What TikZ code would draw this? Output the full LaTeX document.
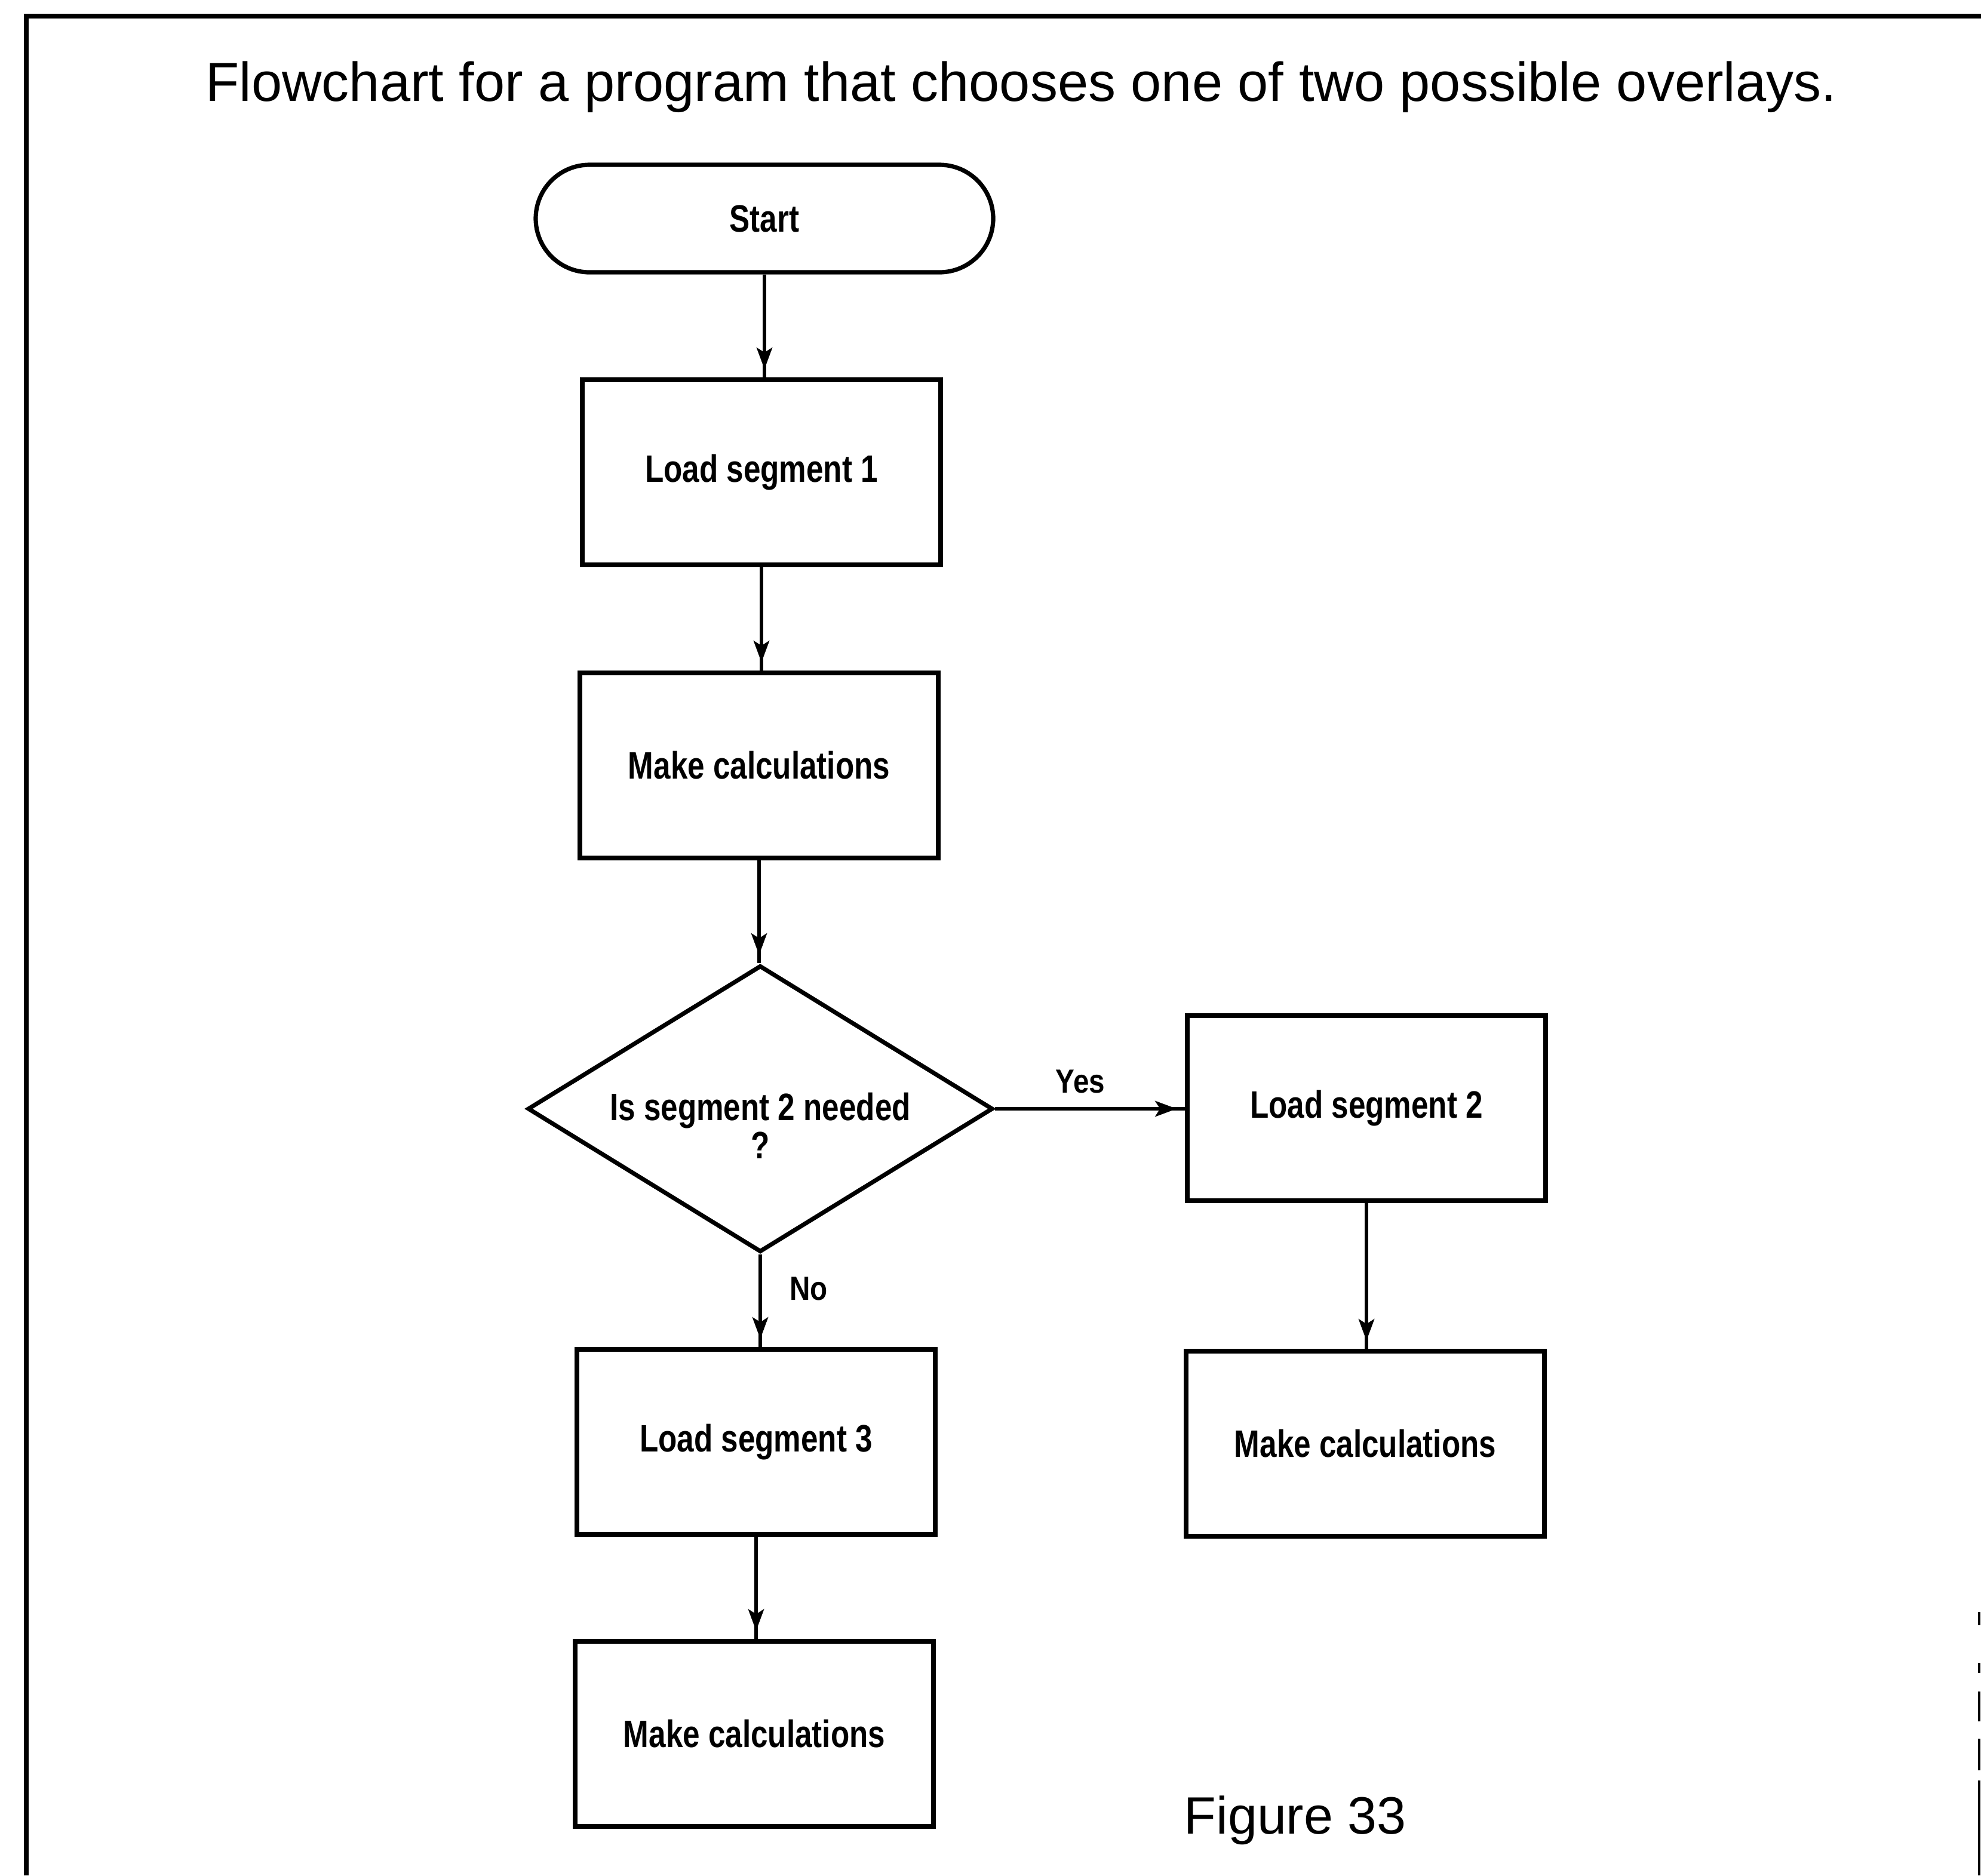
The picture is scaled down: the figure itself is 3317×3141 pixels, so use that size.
\documentclass[tikz,border=0pt]{standalone}
\usepackage{fontspec}
\setmainfont{Liberation Sans}
\newfontfamily\boxfont[FakeStretch=0.8]{Liberation Sans}
\newfontfamily\lblfont[FakeStretch=0.85]{Liberation Sans}
\usetikzlibrary{shapes.misc,shapes.geometric,arrows.meta,decorations.markings}
\tikzset{
  boxline/.style={draw=black, line width=1.8pt},
  procbox/.style={boxline, rectangle, minimum width=150pt, minimum height=77.5pt, inner sep=0pt,
    font=\boxfont\bfseries\fontsize{16}{18}\selectfont, align=center},
  termbox/.style={boxline, rounded rectangle, minimum width=191.5pt, minimum height=45pt, inner sep=0pt,
    font=\boxfont\bfseries\fontsize{16}{18}\selectfont},
  decbox/.style={boxline, diamond, aspect=1.62, minimum width=194.75pt, minimum height=120pt, inner sep=0pt},
  dectext/.style={font=\boxfont\bfseries\fontsize{16}{16}\selectfont, align=center, inner sep=0pt},
  flow/.style={draw=black, line width=1.6pt,
    postaction={decorate},
    decoration={markings, mark=at position -3.5pt with {\arrow{Stealth[length=9pt,width=6.5pt,inset=2pt]}}}},
  edgelbl/.style={font=\lblfont\bfseries\fontsize{14}{16}\selectfont, inner sep=0pt},
  frameline/.style={draw=black, line width=2pt},
}
\begin{document}
\begin{tikzpicture}[x=0.25pt,y=-0.25pt]
\useasboundingbox (0,0) rectangle (3317,3141);
% frame
\draw[frameline] (44,3141) -- (44,27) -- (3317,27);
\draw[draw=black, line width=1.2pt] (3314,2700) -- (3314,2722) (3314,2785) -- (3314,2802)
  (3314,2833) -- (3314,2883) (3314,2912) -- (3314,2965) (3314,2982) -- (3314,3141);
% title
\node[anchor=base, font=\fontsize{23}{26}\selectfont, inner sep=0pt] (title) at (1710,169)
  {Flowchart for a program that chooses one of two possible overlays.};
% nodes
\node[termbox] (start) at (1280,366) {Start};
\node[procbox] (ls1) at (1275,791) {Load segment 1};
\node[procbox] (mc1) at (1271,1282) {Make calculations};
\node[decbox] (dec) at (1273,1857) {};
\node[dectext] (dectxt) at ([yshift=-7pt]dec.center) {Is segment 2 needed\\?};
\node[procbox] (ls2) at (2288,1856) {Load segment 2};
\node[procbox] (mc2) at (2286,2418) {Make calculations};
\node[procbox] (ls3) at (1266,2415) {Load segment 3};
\node[procbox] (mc3) at (1263,2904) {Make calculations};
\node[anchor=base west, font=\fontsize{22}{24}\selectfont, inner sep=0pt] (fig) at (1982,3071) {Figure 33};
% connectors
\draw[flow] (start.south) -- (start.south |- ls1.north);
\draw[flow] (ls1.south) -- (ls1.south |- mc1.north);
\draw[flow] (mc1.south) -- (mc1.south |- dec.north);
\draw[flow] (dec.east) -- (dec.east -| ls2.west);
\draw[flow] (dec.south) -- (dec.south |- ls3.north);
\draw[flow] (ls2.south) -- (ls2.south |- mc2.north);
\draw[flow] (ls3.south) -- (ls3.south |- mc3.north);
% labels
\node[edgelbl] (yes) at (1809,1811) {Yes};
\node[edgelbl] (no) at (1354,2158) {No};
\end{tikzpicture}
\end{document}
